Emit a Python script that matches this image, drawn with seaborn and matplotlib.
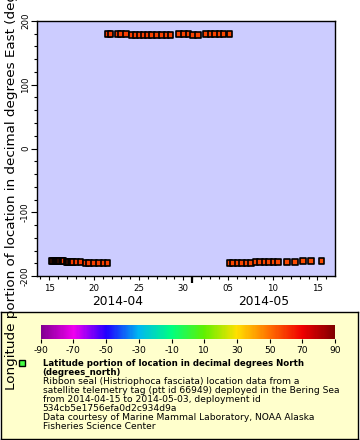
import numpy as np
import pandas as pd
import matplotlib
matplotlib.use("Agg")
import matplotlib.pyplot as plt
import matplotlib.dates as mdates
from matplotlib.colors import LinearSegmentedColormap, Normalize
from matplotlib.ticker import MultipleLocator
import seaborn as sns

# ---------------- data ----------------
base_date = "2014-04-15"
day_offsets = [
    0.30, 0.43, 0.56, 0.69, 0.82, 0.95, 1.08, 1.21, 1.34, 1.47, 1.60,
    1.93, 2.08, 2.23, 2.38, 2.53, 2.68, 3.05, 3.51,
    4.10, 4.47, 5.00, 5.53, 6.05, 6.53,
    6.57, 6.85, 7.68, 8.02, 8.61,
    9.25, 9.62, 10.09, 10.56, 11.04, 11.49, 12.05, 12.61, 13.11, 13.58,
    14.51, 15.07, 15.59,
    16.07, 16.63,
    17.53, 18.03, 18.54, 19.04, 19.51, 20.18,
    20.14, 20.52, 21.05, 21.56, 22.06, 22.56,
    23.06, 23.57, 24.07, 24.57, 25.08, 25.58, 26.59, 27.48,
    28.38, 29.27, 30.43,
]
longitudes = [
    -176.3, -176.3, -176.3, -176.4, -176.4, -176.3, -176.4, -176.4, -176.5, -176.5, -176.5,
    -178.0, -178.0, -178.1, -178.0, -178.1, -178.0, -178.1, -178.0,
    -179.6, -179.6, -179.5, -179.6, -179.6, -179.6,
    179.8, 179.8, 179.8, 179.8, 179.8,
    178.3, 178.3, 178.2, 178.3, 178.3, 178.2, 178.3, 178.3, 178.2, 178.3,
    179.8, 179.8, 179.8,
    178.3, 178.3,
    179.8, 179.8, 179.8, 179.8, 179.8, 179.8,
    -179.6, -179.6, -179.6, -179.6, -179.6, -179.6,
    -177.9, -177.9, -177.9, -177.9, -177.9, -177.9, -177.9, -177.9,
    -176.2, -176.2, -176.2,
]
latitudes = [
    59.9, 59.9, 59.8, 59.8, 59.7, 59.7, 59.6, 59.6, 59.5, 59.5, 59.5,
    59.4, 59.4, 59.3, 59.3, 59.2, 59.2, 59.1, 59.1,
    59.0, 59.0, 58.9, 58.9, 58.8, 58.8,
    58.8, 58.8, 58.7, 58.7, 58.6,
    58.6, 58.5, 58.5, 58.4, 58.4, 58.3, 58.3, 58.2, 58.2, 58.1,
    58.1, 58.0, 58.0,
    57.9, 57.9,
    57.8, 57.8, 57.7, 57.7, 57.6, 57.6,
    57.6, 57.5, 57.5, 57.4, 57.4, 57.3,
    57.3, 57.2, 57.2, 57.1, 57.1, 57.0, 57.0, 56.9,
    56.9, 56.8, 56.8,
]

x_range_days = [-1.376, 31.96]
y_range = [-200, 200]
month_label_text = ["2014-04", "2014-05"]
month_label_days = [7.63, 24.0]

cb_stops = [-90, -70, -50, -30, -10, 10, 30, 50, 70, 90]
cb_colors = ["#800090", "#f000f0", "#2000ff", "#00b8f0", "#00ff80",
             "#60f000", "#ffe000", "#ff7000", "#f00000", "#800000"]
cb_ticks = [-90, -70, -50, -30, -10, 10, 30, 50, 70, 90]

legend_title = ["Latitude portion of location in decimal degrees North",
                "(degrees_north)"]
legend_lines = [
    "Ribbon seal (Histriophoca fasciata) location data from a",
    "satellite telemetry tag (ptt id 66949) deployed in the Bering Sea",
    "from 2014-04-15 to 2014-05-03, deployment id",
    "534cb5e1756efa0d2c934d9a",
    "Data courtesy of Marine Mammal Laboratory, NOAA Alaska",
    "Fisheries Science Center",
]
ylabel_text = "Longitude portion of location in decimal degrees East (degrees_east)"

# ---------------- build ----------------
base = pd.Timestamp(base_date)
df = pd.DataFrame({
    "time": base + pd.to_timedelta(day_offsets, unit="D"),
    "lon": longitudes,
    "lat": latitudes,
})

plt.rcParams["font.family"] = ["DejaVu Sans"]
plt.rcParams["axes.unicode_minus"] = False

W, H = 360, 440
fig = plt.figure(figsize=(W / 100, H / 100), dpi=100)
fig.patch.set_facecolor("white")

def px_rect(x0, y0, x1, y1):
    return [x0 / W, 1 - y1 / H, (x1 - x0) / W, (y1 - y0) / H]

cmap = LinearSegmentedColormap.from_list(
    "erd_rainbow", [((s + 90) / 180, c) for s, c in zip(cb_stops, cb_colors)])
norm = Normalize(-90, 90)

ax = fig.add_axes(px_rect(37, 21, 335, 276))
ax.set_facecolor("#ccccff")
sns.scatterplot(data=df, x="time", y="lon", hue="lat", palette=cmap, hue_norm=norm,
                marker="s", s=16, edgecolor="black", linewidth=1.2, legend=False, ax=ax)

ax.set_xlim(base + pd.Timedelta(days=x_range_days[0]), base + pd.Timedelta(days=x_range_days[1]))
ax.set_ylim(*y_range)
ax.set_xlabel("")
ax.set_ylabel("")
for sp in ax.spines.values():
    sp.set_color("black")
    sp.set_linewidth(1.0)

ax.yaxis.set_major_locator(MultipleLocator(100))
ax.yaxis.set_minor_locator(MultipleLocator(20))
ax.tick_params(axis="y", which="major", length=4, width=0.8, labelsize=6.2, pad=1)
ax.tick_params(axis="y", which="minor", length=2, width=0.8)
for lab in ax.get_yticklabels():
    lab.set_rotation(90)
    lab.set_va("center")

ax.xaxis.set_major_locator(mdates.DayLocator(bymonthday=[5, 10, 15, 20, 25, 30]))
ax.xaxis.set_major_formatter(mdates.DateFormatter("%d"))
ax.xaxis.set_minor_locator(mdates.DayLocator())
ax.tick_params(axis="x", which="major", length=3, width=0.8, labelsize=6.2, pad=2.5)
ax.tick_params(axis="x", which="minor", length=2, width=0.8)

sec = ax.secondary_xaxis("bottom")
sec.xaxis.set_major_locator(mdates.MonthLocator())
sec.xaxis.set_major_formatter(plt.NullFormatter())
sec.tick_params(axis="x", which="major", length=5, width=1.6)
sec.tick_params(axis="x", which="minor", length=0)
sec.spines["bottom"].set_visible(False)

trans = matplotlib.transforms.blended_transform_factory(ax.transData, ax.transAxes)
for txt, d in zip(month_label_text, month_label_days):
    ax.text(base + pd.Timedelta(days=d), (276 - 301.7) / 255, txt, transform=trans,
            ha="center", va="center", fontsize=8.8)

# legend box
lax = fig.add_axes(px_rect(0.5, 312, 358, 439))
lax.set_facecolor("#ffffcc")
lax.set_xlim(0.5, 358)
lax.set_ylim(439, 312)
lax.set_xticks([])
lax.set_yticks([])
for sp in lax.spines.values():
    sp.set_color("black")
    sp.set_linewidth(1.0)
lax.plot([22], [363.3], marker="s", markersize=4.2, markerfacecolor="#44ff44",
         markeredgecolor="black", markeredgewidth=1.0, linestyle="none")
y = 363.3
for t in legend_title:
    lax.text(42.7, y, t, fontsize=6.2, fontweight="bold", va="center", ha="left")
    y += 9.0
for t in legend_lines:
    lax.text(42.7, y, t, fontsize=6.6, va="center", ha="left")
    y += 9.0

# colorbar
cax = fig.add_axes(px_rect(40.7, 325, 335, 339.3))
sm = matplotlib.cm.ScalarMappable(norm=norm, cmap=cmap)
cb = fig.colorbar(sm, cax=cax, orientation="horizontal", ticks=cb_ticks)
cb.outline.set_visible(False)
cax.tick_params(axis="x", length=3, width=0.8, labelsize=6.6, pad=1.5)

# y label drawn last so it lies over the legend box, as in the reference
fig.text(12 / W, 1 - 390 / H, ylabel_text, rotation=90, ha="center", va="bottom",
         fontsize=9.7, zorder=10)

fig.savefig("out.png", dpi=100)
